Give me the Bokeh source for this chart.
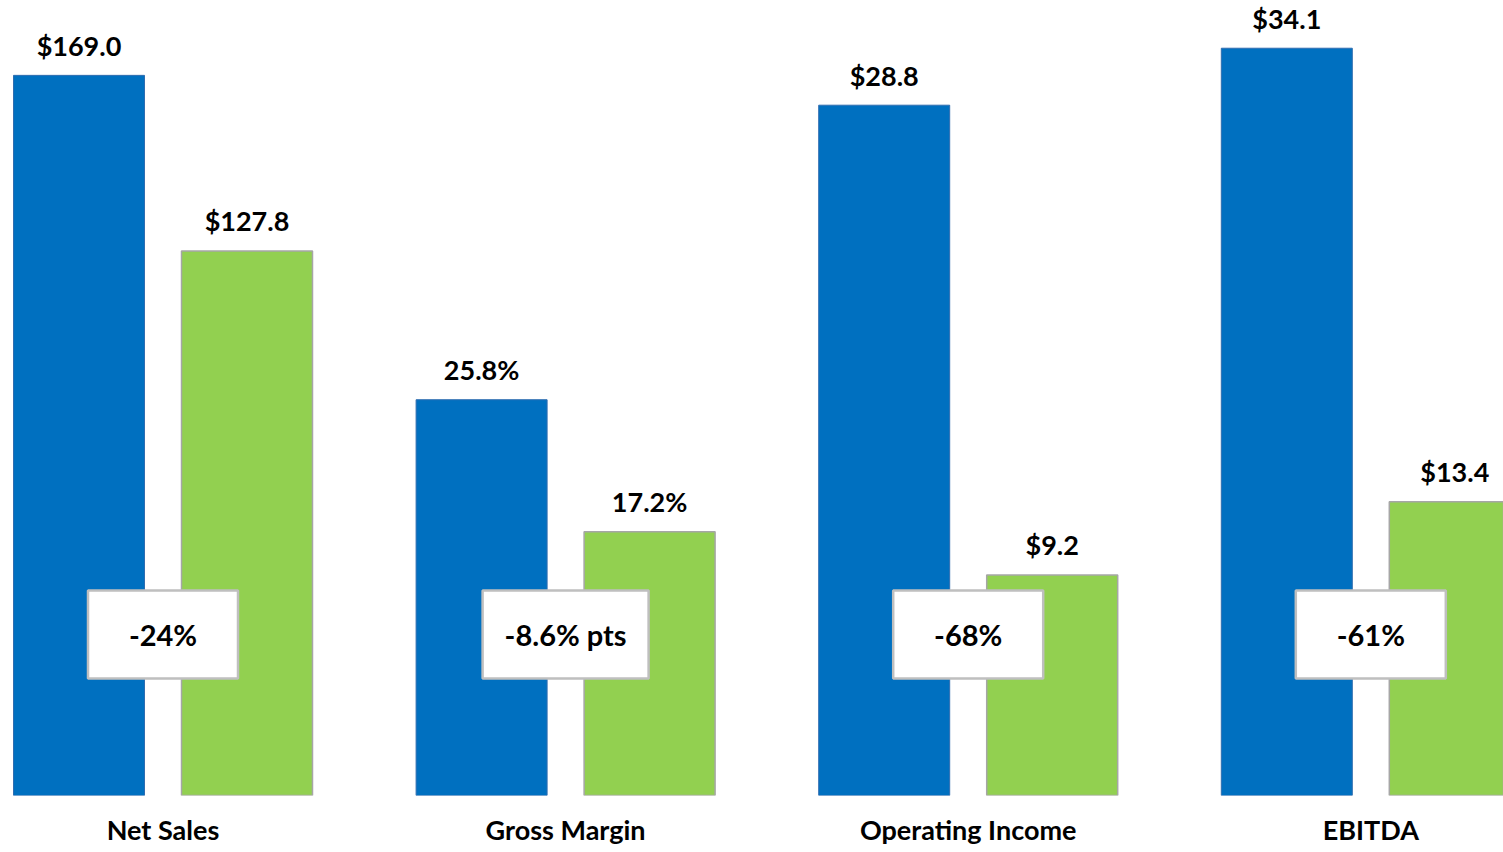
import numpy as np
from bokeh.plotting import figure
from bokeh.models import ColumnDataSource, Range1d, FixedTicker
from bokeh.core.properties import value
from bokeh.transform import dodge
from bokeh.embed import file_html
from bokeh.resources import INLINE

# ---- data ----
categories = ["Net Sales", "Gross Margin", "Operating Income", "EBITDA"]
prior = [169.0, 25.8, 28.8, 34.1]
current = [127.8, 17.2, 9.2, 13.4]
prefix = ["$", "", "$", "$"]
suffix = ["", "%", "", ""]
changes = ["-24%", "-8.6% pts", "-68%", "-61%"]
axis_max = [180, 50, 32, 35]

# ---- styles / layout ----
BLUE = "#0070C0"
GREEN = "#92D050"
FONT = "Lato"
UNIT_PX = 402.6
W = 1503
FRAME_H = 795          # frame spans from top of page to bar baseline
AXIS_PX = 767          # pixel height that corresponds to axis_max
BAR_W = 131 / UNIT_PX
OFF = 84 / UNIT_PX
x_start = -162.5 / UNIT_PX
x_end = x_start + W / UNIT_PX
box_w = [150, 166, 150, 150]
box_y = (FRAME_H - 634) / FRAME_H

p = figure(frame_width=W, frame_height=FRAME_H, output_backend="svg",
           toolbar_location=None,
           x_range=Range1d(x_start, x_end), y_range=Range1d(0, 1),
           y_axis_location=None, min_border_top=0, min_border_left=0,
           min_border_right=0, min_border_bottom=0, outline_line_color=None)
p.grid.visible = False
p.background_fill_color = "white"

for i, cat in enumerate(categories):
    name = f"g{i}"
    p.extra_y_ranges[name] = Range1d(0, axis_max[i] * FRAME_H / AXIS_PX)
    src = ColumnDataSource(dict(
        x=[i], prior=[prior[i]], current=[current[i]],
        prior_lbl=[f"{prefix[i]}{prior[i]:.1f}{suffix[i]}"],
        current_lbl=[f"{prefix[i]}{current[i]:.1f}{suffix[i]}"],
        change=[changes[i]],
    ))
    p.vbar(x=dodge("x", -OFF, range=p.x_range), top="prior", bottom=0, width=BAR_W,
           fill_color=BLUE, line_color="#2F6DB0", line_width=1, source=src,
           y_range_name=name)
    p.vbar(x=dodge("x", OFF, range=p.x_range), top="current", bottom=0, width=BAR_W,
           fill_color=GREEN, line_color="#A6A6A6", line_width=1.5, source=src,
           y_range_name=name)
    for col, lbl, o in (("prior", "prior_lbl", -OFF), ("current", "current_lbl", OFF)):
        p.text(x=dodge("x", o, range=p.x_range), y=col, text=lbl, source=src,
               y_range_name=name, y_offset=-30, text_align="center",
               text_baseline="alphabetic", text_font=value(FONT),
               text_font_style="bold", text_font_size="27px", text_color="#000000")
    p.rect(x="x", y=box_y, width=box_w[i], height=88, width_units="screen",
           height_units="screen", fill_color="white", line_color="#BFBFBF",
           line_width=2.5, source=src)
    p.text(x="x", y=box_y, text="change", source=src, text_align="center",
           text_baseline="middle", text_font=value(FONT), text_font_style="bold",
           text_font_size="29px", text_color="#000000")

ax = p.xaxis[0]
ax.ticker = FixedTicker(ticks=list(range(len(categories))))
ax.major_label_overrides = {i: c for i, c in enumerate(categories)}
ax.axis_line_color = None
ax.major_tick_line_color = None
ax.minor_tick_line_color = None
ax.major_label_text_font = FONT
ax.major_label_text_font_style = "bold"
ax.major_label_text_font_size = "27px"
ax.major_label_text_color = "#000000"
ax.major_label_standoff = 11

open("out.html", "w").write(file_html(p, INLINE))
